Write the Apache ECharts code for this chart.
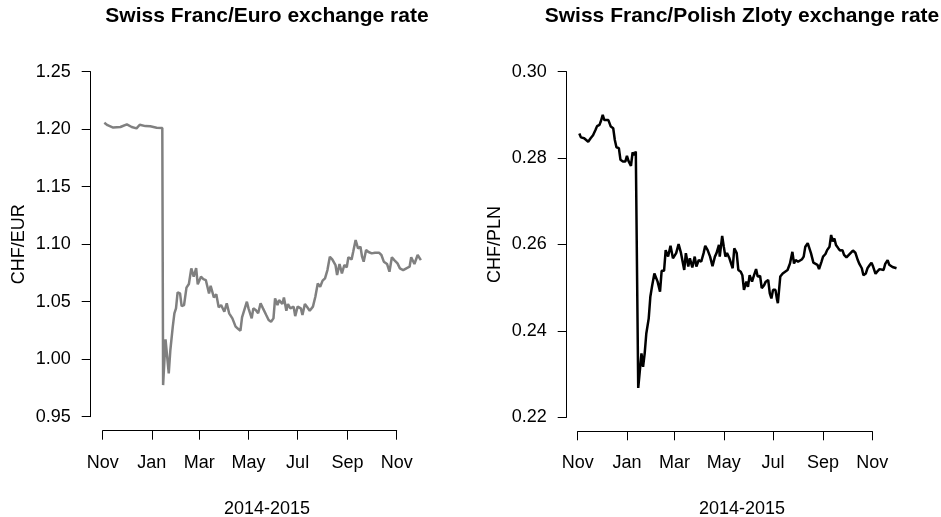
<!DOCTYPE html>
<html>
<head>
<meta charset="utf-8">
<script src="https://cdn.jsdelivr.net/npm/echarts@6/dist/echarts.min.js"></script>
<style>
  html, body { margin: 0; padding: 0; background: #fff; }
  #chart { width: 941px; height: 517px; }
</style>
</head>
<body>
<div id="chart"></div>
<script>
// CHF/EUR daily rate
const eurDates = ['2014-11-03','2014-11-07','2014-11-14','2014-11-23','2014-12-01','2014-12-07','2014-12-13','2014-12-17','2014-12-24','2014-12-30',
  '2015-01-07','2015-01-14','2015-01-15','2015-01-18','2015-01-22','2015-01-24','2015-01-27','2015-01-29','2015-01-31','2015-02-02',
  '2015-02-05','2015-02-07','2015-02-10','2015-02-13','2015-02-16','2015-02-19','2015-02-22','2015-02-25','2015-02-27','2015-03-03',
  '2015-03-06','2015-03-09','2015-03-13','2015-03-15','2015-03-19','2015-03-22','2015-03-25','2015-03-28','2015-04-01','2015-04-04',
  '2015-04-07','2015-04-11','2015-04-15','2015-04-18','2015-04-21','2015-04-23','2015-04-25','2015-04-29','2015-05-01','2015-05-05',
  '2015-05-07','2015-05-10','2015-05-13','2015-05-16','2015-05-19','2015-05-23','2015-05-26','2015-05-29','2015-06-01','2015-06-03',
  '2015-06-06','2015-06-08','2015-06-12','2015-06-14','2015-06-17','2015-06-19','2015-06-22','2015-06-26','2015-06-28','2015-07-01',
  '2015-07-05','2015-07-07','2015-07-10','2015-07-13','2015-07-16','2015-07-20','2015-07-23','2015-07-26','2015-07-29','2015-08-01',
  '2015-08-04','2015-08-07','2015-08-10','2015-08-13','2015-08-17','2015-08-19','2015-08-22','2015-08-25','2015-08-28','2015-08-31',
  '2015-09-02','2015-09-06','2015-09-08','2015-09-11','2015-09-14','2015-09-17','2015-09-19','2015-09-21','2015-09-24','2015-09-27',
  '2015-10-01','2015-10-05','2015-10-10','2015-10-13','2015-10-16','2015-10-20','2015-10-23','2015-10-26','2015-10-29','2015-11-02',
  '2015-11-05','2015-11-09','2015-11-13','2015-11-17','2015-11-19','2015-11-23','2015-11-27','2015-12-01'];
const eurValues = [1.2056,1.2035,1.2014,1.2019,1.2042,1.2019,1.2007,1.2039,1.2027,1.2025,
  1.2013,1.2010,0.9775,1.0173,0.9877,1.0080,1.0283,1.0399,1.0442,1.0581,
  1.0572,1.0462,1.0471,1.0622,1.0654,1.0790,1.0717,1.0793,1.0651,1.0717,
  1.0697,1.0688,1.0572,1.0639,1.0537,1.0564,1.0451,1.0471,1.0413,1.0486,
  1.0399,1.0355,1.0283,1.0265,1.0248,1.0364,1.0370,1.0500,1.0442,1.0355,
  1.0442,1.0428,1.0399,1.0486,1.0442,1.0384,1.0341,1.0326,1.0355,1.0529,
  1.0471,1.0514,1.0480,1.0537,1.0422,1.0480,1.0442,1.0457,1.0375,1.0457,
  1.0442,1.0384,1.0480,1.0451,1.0422,1.0457,1.0543,1.0659,1.0630,1.0683,
  1.0703,1.0775,1.0891,1.0868,1.0819,1.0732,1.0828,1.0746,1.0819,1.0799,
  1.0886,1.0868,1.0935,1.1036,1.0964,1.0978,1.0891,1.0848,1.0949,1.0932,
  1.0920,1.0926,1.0926,1.0906,1.0848,1.0828,1.0761,1.0886,1.0862,1.0833,
  1.0790,1.0775,1.0790,1.0804,1.0886,1.0828,1.0906,1.0862];

// CHF/PLN daily rate
const plnDates = ['2014-11-03','2014-11-05','2014-11-07','2014-11-09','2014-11-11','2014-11-14','2014-11-17','2014-11-20','2014-11-23','2014-11-25',
  '2014-11-28','2014-11-30','2014-12-02','2014-12-04','2014-12-06','2014-12-09','2014-12-12','2014-12-15','2014-12-17','2014-12-19',
  '2014-12-22','2014-12-24','2014-12-27','2014-12-30','2015-01-01','2015-01-03','2015-01-06','2015-01-08','2015-01-10','2015-01-12',
  '2015-01-14','2015-01-15','2015-01-19','2015-01-21','2015-01-23','2015-01-25','2015-01-28','2015-01-30','2015-02-01','2015-02-04',
  '2015-02-06','2015-02-08','2015-02-11','2015-02-13','2015-02-16','2015-02-18','2015-02-21','2015-02-24','2015-02-27','2015-03-03',
  '2015-03-06','2015-03-09','2015-03-11','2015-03-13','2015-03-15','2015-03-18','2015-03-20','2015-03-23','2015-03-26','2015-03-28',
  '2015-03-31','2015-04-03','2015-04-06','2015-04-08','2015-04-11','2015-04-14','2015-04-17','2015-04-20','2015-04-22','2015-04-25',
  '2015-04-26','2015-04-29','2015-05-01','2015-05-03','2015-05-05','2015-05-08','2015-05-10','2015-05-12','2015-05-14','2015-05-17',
  '2015-05-19','2015-05-22','2015-05-24','2015-05-26','2015-05-29','2015-05-31','2015-06-02','2015-06-05','2015-06-07','2015-06-10',
  '2015-06-12','2015-06-15','2015-06-17','2015-06-20','2015-06-22','2015-06-25','2015-06-27','2015-06-29','2015-07-01','2015-07-04',
  '2015-07-06','2015-07-07','2015-07-10','2015-07-13','2015-07-16','2015-07-19','2015-07-22','2015-07-25','2015-07-27','2015-07-29',
  '2015-08-01','2015-08-03','2015-08-06','2015-08-08','2015-08-10','2015-08-13','2015-08-15','2015-08-17','2015-08-20','2015-08-22',
  '2015-08-25','2015-08-27','2015-08-30','2015-09-01','2015-09-04','2015-09-06','2015-09-09','2015-09-11','2015-09-13','2015-09-15',
  '2015-09-17','2015-09-20','2015-09-22','2015-09-25','2015-09-27','2015-09-30','2015-10-02','2015-10-05','2015-10-08','2015-10-11',
  '2015-10-14','2015-10-16','2015-10-19','2015-10-21','2015-10-24','2015-10-26','2015-10-29','2015-10-31','2015-11-02','2015-11-05',
  '2015-11-07','2015-11-10','2015-11-12','2015-11-15','2015-11-17','2015-11-20','2015-11-22','2015-11-26','2015-12-01'];
const plnValues = [0.2857,0.2848,0.2851,0.2846,0.2848,0.2838,0.2846,0.2853,0.2865,0.2874,
  0.2877,0.2887,0.2900,0.2888,0.2892,0.2888,0.2873,0.2869,0.2842,0.2825,
  0.2823,0.2796,0.2792,0.2792,0.2805,0.2793,0.2782,0.2813,0.2807,0.2815,
  0.2819,0.2268,0.2348,0.2317,0.2348,0.2394,0.2429,0.2479,0.2502,0.2533,
  0.2537,0.2514,0.2491,0.2539,0.2539,0.2587,0.2572,0.2597,0.2568,0.2580,
  0.2601,0.2580,0.2583,0.2541,0.2580,0.2549,0.2568,0.2547,0.2572,0.2549,
  0.2564,0.2560,0.2580,0.2597,0.2587,0.2572,0.2550,0.2572,0.2580,0.2599,
  0.2572,0.2620,0.2595,0.2572,0.2580,0.2568,0.2564,0.2545,0.2591,0.2580,
  0.2541,0.2537,0.2529,0.2495,0.2514,0.2502,0.2529,0.2514,0.2526,0.2543,
  0.2526,0.2527,0.2499,0.2506,0.2514,0.2518,0.2487,0.2475,0.2495,0.2495,
  0.2472,0.2464,0.2526,0.2533,0.2537,0.2541,0.2556,0.2583,0.2556,0.2564,
  0.2560,0.2556,0.2566,0.2572,0.2595,0.2603,0.2601,0.2580,0.2558,0.2555,
  0.2553,0.2543,0.2560,0.2572,0.2578,0.2587,0.2595,0.2622,0.2607,0.2614,
  0.2599,0.2591,0.2586,0.2587,0.2576,0.2570,0.2570,0.2580,0.2586,0.2581,
  0.2564,0.2555,0.2545,0.2529,0.2533,0.2545,0.2553,0.2558,0.2549,0.2532,
  0.2537,0.2543,0.2547,0.2541,0.2555,0.2564,0.2553,0.2548,0.2545];

// x axis ticks
const tickDates = ['2014-11-01','2015-01-01','2015-03-01','2015-05-01','2015-07-01','2015-09-01','2015-11-01'];
const tickLabels = ['Nov','Jan','Mar','May','Jul','Sep','Nov'];
// full x range of the plotting region
const xRange = ['2014-10-19', '2015-12-15'];

const titles = ['Swiss Franc/Euro exchange rate', 'Swiss Franc/Polish Zloty exchange rate'];
const yNames = ['CHF/EUR', 'CHF/PLN'];
const xName = '2014-2015';

const FONT = '"Liberation Sans", Arial, Helvetica, sans-serif';

// local-time timestamp from 'YYYY-MM-DD'
function ts (s) {
  const p = s.split('-').map(Number);
  return new Date(p[0], p[1] - 1, p[2]).getTime();
}
const tickTimes = tickDates.map(ts);
const xMin = ts(xRange[0]);
const xMax = ts(xRange[1]);

// panel boxes: where the first/last x tick sit and where the y range sits
const panels = [
  { tickLeft: 102.7, tickWidth: 294, top: 71.7, height: 345, yOffset: 12 },
  { tickLeft: 577.7, tickWidth: 294.6, top: 71.7, height: 345.6, yOffset: 11 }
]

// data grid spans the whole x range, axis grid only Nov..Nov (like R's axis())
function grids () {
  const out = []
  panels.forEach(p => {
    const pxPerMs = p.tickWidth / (tickTimes[tickTimes.length - 1] - tickTimes[0])
    out.push({
      left: p.tickLeft - (tickTimes[0] - xMin) * pxPerMs,
      width: (xMax - xMin) * pxPerMs,
      top: p.top,
      height: p.height
    })
    out.push({ left: p.tickLeft, width: p.tickWidth, top: p.top, height: p.height })
  })
  return out
}

function dataXAxis (gridIndex) {
  return { type: 'value', gridIndex: gridIndex, min: xMin, max: xMax, show: false }
}

function tickXAxis (gridIndex) {
  return {
    type: 'value',
    gridIndex: gridIndex,
    min: tickTimes[0],
    max: tickTimes[tickTimes.length - 1],
    offset: 14,
    axisLine: { lineStyle: { color: '#000', width: 1 } },
    axisTick: { show: true, length: 9, lineStyle: { color: '#000' }, customValues: tickTimes },
    axisLabel: {
      customValues: tickTimes,
      margin: 23,
      color: '#000',
      fontSize: 18,
      fontFamily: FONT,
      formatter: v => {
        let best = 0
        tickTimes.forEach((t, i) => { if (Math.abs(t - v) < Math.abs(tickTimes[best] - v)) best = i })
        return tickLabels[best]
      }
    },
    splitLine: { show: false }
  }
}

function yAxisFor (gridIndex, min, max, step, name, offset) {
  return {
    type: 'value',
    gridIndex: gridIndex,
    min: min,
    max: max,
    interval: step,
    offset: offset,
    name: name,
    nameLocation: 'middle',
    nameGap: 63,
    nameTextStyle: { color: '#000', fontSize: 18, fontFamily: FONT },
    axisLine: { show: true, lineStyle: { color: '#000', width: 1 } },
    axisTick: { show: true, length: 9, lineStyle: { color: '#000' } },
    axisLabel: {
      margin: 20,
      color: '#000',
      fontSize: 18,
      fontFamily: FONT,
      formatter: v => v.toFixed(2)
    },
    splitLine: { show: false }
  }
}

function hiddenYAxis (gridIndex, min, max) {
  return { type: 'value', gridIndex: gridIndex, min: min, max: max, show: false }
}

const chart = echarts.init(document.getElementById('chart'))
const option = {
  backgroundColor: '#fff',
  animation: false,
  title: [
    { text: titles[0], left: 262, top: 1, textAlign: 'center', textStyle: { fontSize: 21, fontWeight: 'bold', color: '#000', fontFamily: FONT } },
    { text: titles[1], left: 737, top: 1, textAlign: 'center', textStyle: { fontSize: 21, fontWeight: 'bold', color: '#000', fontFamily: FONT } },
    { text: xName, left: 262, top: 495, textAlign: 'center', textStyle: { fontSize: 18, fontWeight: 'normal', color: '#000', fontFamily: FONT } },
    { text: xName, left: 737, top: 495, textAlign: 'center', textStyle: { fontSize: 18, fontWeight: 'normal', color: '#000', fontFamily: FONT } }
  ],
  grid: grids(),
  xAxis: [dataXAxis(0), tickXAxis(1), dataXAxis(2), tickXAxis(3)],
  yAxis: [
    hiddenYAxis(0, 0.95, 1.25),
    yAxisFor(1, 0.95, 1.25, 0.05, yNames[0], panels[0].yOffset),
    hiddenYAxis(2, 0.22, 0.30),
    yAxisFor(3, 0.22, 0.30, 0.02, yNames[1], panels[1].yOffset)
  ],
  series: [
    {
      type: 'line',
      xAxisIndex: 0,
      yAxisIndex: 0,
      data: eurDates.map((d, i) => [ts(d), eurValues[i]]),
      showSymbol: false,
      lineStyle: { color: '#808080', width: 2.5 }
    },
    {
      type: 'line',
      xAxisIndex: 2,
      yAxisIndex: 2,
      data: plnDates.map((d, i) => [ts(d), plnValues[i]]),
      showSymbol: false,
      lineStyle: { color: '#000', width: 2.5 }
    }
  ]
}
chart.setOption(option)
</script>
</body>
</html>
